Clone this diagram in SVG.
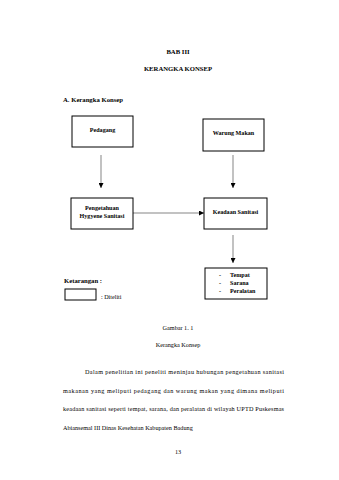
<svg xmlns="http://www.w3.org/2000/svg" width="339" height="480" viewBox="0 0 339 480">
<style>
text{font-family:"Liberation Serif","Times New Roman",serif;fill:#000}
.b{font-weight:bold}
.t{font-size:6.7px}
.n{font-size:6.1px;font-weight:bold}
.p{font-size:6.2px}
.box{fill:#fff;stroke:#000;stroke-width:1}
.c{stroke:#333;stroke-width:0.6;fill:none}
</style>
<defs>
<marker id="ah" viewBox="0 0 6 6" refX="6" refY="3" markerWidth="5" markerHeight="5" orient="auto" markerUnits="userSpaceOnUse">
<path d="M0,0 L6,3 L0,6 z" fill="#000"/>
</marker>
</defs>
<rect width="339" height="480" fill="#fff"/>
<text class="t b" x="178" y="54" text-anchor="middle">BAB III</text>
<text class="t b" x="178" y="71" text-anchor="middle">KERANGKA KONSEP</text>
<text class="t b" x="63" y="102">A.  Kerangka Konsep</text>

<g id="connectors">
<line class="c" x1="101" y1="155" x2="101" y2="188" marker-end="url(#ah)"/>
<line class="c" x1="233" y1="155" x2="233" y2="188" marker-end="url(#ah)"/>
<line class="c" x1="133" y1="213" x2="204" y2="213" marker-end="url(#ah)"/>
<line class="c" x1="233" y1="235" x2="233" y2="263" marker-end="url(#ah)"/>
</g>

<g id="pedagang">
<rect class="box" x="72" y="116" width="61" height="31"/>
<text class="n" x="102.5" y="132" text-anchor="middle">Pedagang</text>
</g>
<g id="warung">
<rect class="box" x="203" y="119" width="61" height="32"/>
<text class="n" x="233.5" y="135" text-anchor="middle">Warung Makan</text>
</g>
<g id="pengetahuan">
<rect class="box" x="71" y="198" width="62" height="31"/>
<text class="n" x="102" y="210" text-anchor="middle">Pengetahuan</text>
<text class="n" x="102" y="218" text-anchor="middle">Hygyene Sanitasi</text>
</g>
<g id="keadaan">
<rect class="box" x="204" y="198" width="63" height="31"/>
<text class="n" x="235.5" y="214" text-anchor="middle">Keadaan Sanitasi</text>
</g>
<g id="tempat">
<rect class="box" x="205" y="268" width="62" height="31"/>
<text class="n" x="219" y="277">-</text>
<text class="n" x="230" y="277">Tempat</text>
<text class="n" x="219" y="285">-</text>
<text class="n" x="230" y="285">Sarana</text>
<text class="n" x="219" y="293">-</text>
<text class="n" x="230" y="293">Peralatan</text>
</g>
<g id="legend">
<text class="t b" x="64" y="283">Ketarangan :</text>
<rect class="box" x="65" y="289" width="31" height="11"/>
<text class="n" style="font-weight:normal" x="101" y="299">: Diteliti</text>
</g>

<text class="p" x="178" y="330" text-anchor="middle">Gambar 1. 1</text>
<text class="p" x="178" y="347" text-anchor="middle">Kerangka Konsep</text>
<text class="p" x="85" y="374" textLength="199" lengthAdjust="spacing">Dalam penelitian ini peneliti meninjau hubungan pengetahuan sanitasi</text>
<text class="p" x="63" y="393" textLength="221" lengthAdjust="spacing">makanan yang meliputi pedagang dan warung makan yang dimana meliputi</text>
<text class="p" x="63" y="411" textLength="221" lengthAdjust="spacing">keadaan sanitasi seperti tempat, sarana, dan peralatan di wilayah UPTD Puskesmas</text>
<text class="p" x="63" y="430">Abiansemal III Dinas Kesehatan Kabupaten Badung</text>
<text class="p" x="178" y="454" text-anchor="middle">13</text>
</svg>
